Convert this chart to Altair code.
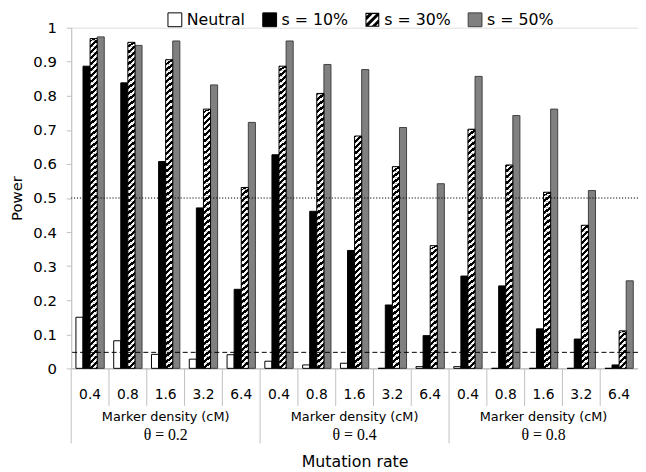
import altair as alt
import pandas as pd

# ---------------- data ----------------
theta_labels = ["θ = 0.2", "θ = 0.4", "θ = 0.8"]
densities = ["0.4", "0.8", "1.6", "3.2", "6.4"]
series_names = ["Neutral", "s = 10%", "s = 30%", "s = 50%"]
neutral = [0.150, 0.081, 0.041, 0.027, 0.040, 0.021, 0.010, 0.015, 0.000, 0.005, 0.005, 0.000, 0.000, 0.000, 0.000]
s10 = [0.887, 0.838, 0.607, 0.471, 0.232, 0.627, 0.461, 0.346, 0.186, 0.096, 0.271, 0.242, 0.116, 0.086, 0.010]
s30 = [0.968, 0.957, 0.906, 0.761, 0.531, 0.887, 0.807, 0.682, 0.592, 0.360, 0.702, 0.597, 0.517, 0.420, 0.110]
s50 = [0.973, 0.948, 0.961, 0.832, 0.722, 0.961, 0.892, 0.877, 0.707, 0.542, 0.857, 0.742, 0.761, 0.522, 0.257]
thresholds = [0.5, 0.047]
threshold_kinds = ["dotted", "dashed"]
axis_sub_label = "Marker density (cM)"
x_title = "Mutation rate"
y_title = "Power"

groups = [f"{t}|{d}" for t in theta_labels for d in densities]
rows = []
for i, g in enumerate(groups):
    t, d = g.split("|")
    for name, vals in zip(series_names, [neutral, s10, s30, s50]):
        rows.append({"group": g, "theta": t, "density": d, "series": name, "value": vals[i]})
df = pd.DataFrame(rows)

groups_df = pd.DataFrame({
    "group": groups,
    "density": [g.split("|")[1] for g in groups],
    "long": [g.split("|")[1] == densities[0] for g in groups],
})
theta_df = pd.DataFrame({
    "group": [f"{t}|{densities[2]}" for t in theta_labels],
    "theta": theta_labels,
    "sub": [axis_sub_label] * len(theta_labels),
})
ref_df = pd.DataFrame({"y": thresholds, "kind": threshold_kinds})

# ---------------- styles ----------------
W, H = 574, 345
FONT = "DejaVu Sans"
HATCH_STEP = 0.0175

xscale = alt.Scale(domain=groups, paddingInner=0, paddingOuter=0)
offscale = alt.Scale(domain=series_names, paddingInner=0, paddingOuter=0.667)
yscale = alt.Scale(domain=[0, 1], nice=False)
fill_scale = alt.Scale(domain=series_names, range=["white", "black", "black", "#808080"])
stroke_scale = alt.Scale(domain=series_names, range=["black", "black", "transparent", "#404040"])
hatch_path = (
    "M-1,-1H1V1H-1Z "
    "M-0.85,-0.85V0.85H0.85V-0.85Z "
    "M-0.85,0.55L0.55,-0.85L0.85,-0.85L0.85,-0.55L-0.55,0.85L-0.85,0.85Z "
    "M-0.85,-0.55L-0.55,-0.85L0.05,-0.85L-0.85,0.05Z "
    "M0.85,0.55L0.55,0.85L-0.05,0.85L0.85,-0.05Z"
)
shape_scale = alt.Scale(domain=series_names, range=["square", "square", hatch_path, "square"])

legend = alt.Legend(
    title=None, orient="none", legendX=97, legendY=-16, direction="horizontal",
    labelFontSize=16, labelFont=FONT, labelColor="black", symbolSize=196,
    symbolStrokeWidth=1, columnPadding=15, labelOffset=4, padding=0,
)

gradient = {
    "gradient": "linear", "x1": 0, "y1": 0, "x2": 1, "y2": 1,
    "stops": [
        {"offset": 0.0, "color": "black"}, {"offset": 0.125, "color": "black"},
        {"offset": 0.125, "color": "white"}, {"offset": 0.375, "color": "white"},
        {"offset": 0.375, "color": "black"}, {"offset": 0.625, "color": "black"},
        {"offset": 0.625, "color": "white"}, {"offset": 0.875, "color": "white"},
        {"offset": 0.875, "color": "black"}, {"offset": 1.0, "color": "black"},
    ],
}

x_axis = alt.Axis(labels=False, ticks=False, domain=True, domainColor="#b0b0b0",
                  title=x_title, titleFont=FONT, titleFontSize=16, titleFontWeight="normal",
                  titleColor="black", titlePadding=86, grid=False)
y_axis = alt.Axis(values=[i / 10 for i in range(11)], format=".1~f", grid=False,
                  domainColor="#c0c0c0", tickColor="#c0c0c0", tickSize=5,
                  labelFont=FONT, labelFontSize=15, labelColor="black", labelPadding=10,
                  title=y_title, titleFont=FONT, titleFontSize=15, titleFontWeight="normal",
                  titleColor="black", titlePadding=8)

x_main = alt.X("group:N", scale=xscale, sort=groups, axis=x_axis, title=x_title)
xoff = alt.XOffset("series:N", scale=offscale, sort=series_names)


def yq(field):
    return alt.Y(field, scale=yscale, axis=y_axis, title=y_title)


bars = alt.Chart(df).mark_bar(strokeWidth=1, opacity=1).encode(
    x=x_main,
    xOffset=xoff,
    y=yq("value:Q"),
    fill=alt.Fill("series:N", scale=fill_scale, sort=series_names, legend=legend),
    stroke=alt.Stroke("series:N", scale=stroke_scale, sort=series_names, legend=legend),
)

hatch = (
    alt.Chart(df)
    .transform_filter(alt.datum.series == series_names[2])
    .transform_calculate(seg=f"sequence(0, datum.value, {HATCH_STEP})")
    .transform_flatten(["seg"])
    .transform_calculate(seg_top=f"min(datum.seg + {HATCH_STEP}, datum.value)")
    .mark_bar(fill=gradient, strokeWidth=0, opacity=1)
    .encode(x=x_main, xOffset=xoff, y=yq("seg:Q"), y2="seg_top:Q")
)

outline = (
    alt.Chart(df)
    .transform_filter(alt.datum.series == series_names[2])
    .mark_bar(fill="transparent", stroke="black", strokeWidth=1, opacity=1)
    .encode(x=x_main, xOffset=xoff, y=yq("value:Q"))
)

legend_pts = alt.Chart(pd.DataFrame({"series": series_names})).mark_point(
    filled=True, size=196, clip=True, opacity=1, strokeWidth=1
).encode(
    y=alt.value(-300),
    fill=alt.Fill("series:N", scale=fill_scale, sort=series_names, legend=legend),
    stroke=alt.Stroke("series:N", scale=stroke_scale, sort=series_names, legend=legend),
    shape=alt.Shape("series:N", scale=shape_scale, sort=series_names, legend=legend),
)

refs = alt.Chart(ref_df).mark_rule(color="black", strokeWidth=1).encode(
    y=yq("y:Q"),
    strokeDash=alt.StrokeDash("kind:N", scale=alt.Scale(domain=threshold_kinds, range=[[1.2, 1.8], [5, 3]]), legend=None),
)

x_edge = alt.X("group:N", scale=xscale, sort=groups, axis=x_axis, title=x_title, bandPosition=0)
short_sep = alt.Chart(groups_df).transform_filter("!datum.long").mark_rule(color="#c0c0c0", strokeWidth=1).encode(
    x=x_edge, y=alt.value(H), y2=alt.value(H + 38),
)
long_sep = alt.Chart(groups_df).transform_filter("datum.long").mark_rule(color="#c0c0c0", strokeWidth=1).encode(
    x=x_edge, y=alt.value(H), y2=alt.value(H + 76),
)

dens_text = alt.Chart(groups_df).mark_text(font=FONT, fontSize=14, color="black", baseline="middle").encode(
    x=x_main, y=alt.value(H + 27), text="density:N",
)
sub_text = alt.Chart(theta_df).mark_text(font=FONT, fontSize=13, color="black", baseline="middle").encode(
    x=x_main, y=alt.value(H + 49), text="sub:N",
)
theta_text = alt.Chart(theta_df).mark_text(font="Liberation Serif", fontSize=16, color="black", baseline="middle").encode(
    x=x_main, y=alt.value(H + 68), text="theta:N",
)

chart = (
    alt.layer(bars, hatch, outline, refs, short_sep, long_sep, dens_text, sub_text, theta_text, legend_pts)
    .properties(
        width=W, height=H,
        autosize=alt.AutoSizeParams(type="none"),
        padding={"left": 64, "top": 17, "right": 0, "bottom": 100},
        background="white",
    )
    .configure_view(stroke=None)
    .configure(font=FONT)
)

chart.save("out.html", embed_options={"renderer": "svg", "actions": False})
